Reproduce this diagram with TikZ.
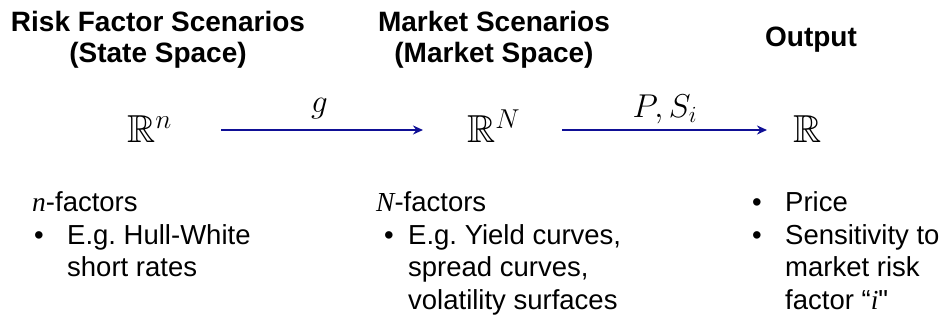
\RequirePackage{fix-cm}
\documentclass[tikz,border=0pt]{standalone}
\usepackage{amssymb}
\DeclareFontFamily{U}{msb}{}
\DeclareFontShape{U}{msb}{m}{n}{<-> msbm10}{}
\usepackage{fontspec}
\setmainfont{Liberation Sans}
\newfontfamily\timesit{Liberation Serif}
\newfontfamily\quotefont{Liberation Sans}
\usetikzlibrary{arrows.meta}
\definecolor{mapblue}{RGB}{15,15,150}
\tikzset{
  head/.style={font=\fontsize{28}{31}\selectfont\bfseries, align=center, anchor=base, inner sep=0pt},
  body/.style={font=\fontsize{27.5}{32.5}\selectfont\frenchspacing, align=left, anchor=base west, inner sep=0pt},
  space/.style={font=\fontsize{39}{39}\selectfont, inner sep=0pt, text height=26pt, text depth=0pt, anchor=base west},
  map/.style={draw=mapblue, line width=2pt, -{Stealth[length=10pt, width=9pt]}},
  maplabel/.style={font=\fontsize{33}{33}\selectfont, inner sep=0pt, anchor=base}
}
\begin{document}
\begin{tikzpicture}[x=1pt, y=-1pt]
  \useasboundingbox (0,0) rectangle (943,320);
  % headings
  \node[head] (state) at (158,63) {Risk Factor Scenarios\\(State Space)};
  \node[head] (market) at (494,63) {Market Scenarios\\(Market Space)};
  \node[head] (output) at (811,47) {Output};
  % spaces and maps
  \node[space] (Rn) at (127,143) {$\mathbb{R}^n$};
  \node[space] (RN) at (467,143) {$\mathbb{R}^N$};
  \node[space] (R) at (793,143) {$\mathbb{R}$};
  \draw[map, shorten <=49pt, shorten >=44pt] (Rn) -- (RN) node[maplabel, midway, yshift=17pt] {$g$};
  \draw[map, shorten <=42pt, shorten >=26pt] (RN) -- (R) node[maplabel, pos=0.53, yshift=12pt] {$P,S_i$};
  % descriptions
  \node[body] (nfac) at (32,277) {{\timesit\itshape n}-factors\\\makebox[35pt][l]{\hspace{2pt}•}E.g. Hull-White\\\hspace*{35pt}short rates};
  \node[body] (Nfac) at (376,309.5) {{\timesit\itshape N}-factors\\\makebox[32pt][l]{\hspace{8pt}•}E.g. Yield curves,\\\hspace*{32pt}spread curves,\\\hspace*{32pt}volatility surfaces};
  \node[body] (out) at (752,309.5) {\makebox[33pt][l]{•}Price\\\makebox[33pt][l]{•}Sensitivity to\\\hspace*{33pt}market risk\\\hspace*{33pt}factor “{\timesit\itshape i}{\quotefont"}};
\end{tikzpicture}
\end{document}
